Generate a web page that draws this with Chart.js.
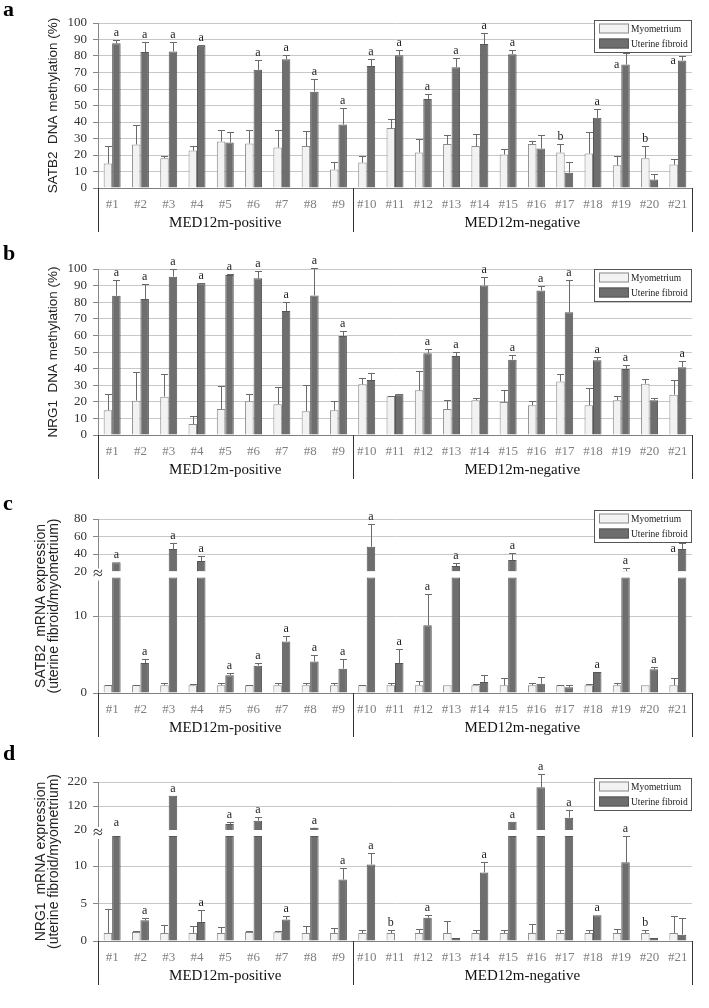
<!DOCTYPE html>
<html>
<head>
<meta charset="utf-8">
<script src="https://cdn.jsdelivr.net/npm/chart.js@4.4.1/dist/chart.umd.min.js"></script>
<style>
html, body { margin: 0; padding: 0; background: #fff; }
#wrap { position: relative; width: 709px; height: 1008px; }
.panel { position: absolute; left: 0; width: 709px; }
</style>
</head>
<body>
<div id="wrap">
  <div class="panel" style="top:0;height:243px"><canvas id="chartA"></canvas></div>
  <div class="panel" style="top:243px;height:252px"><canvas id="chartB"></canvas></div>
  <div class="panel" style="top:495px;height:248px"><canvas id="chartC"></canvas></div>
  <div class="panel" style="top:743px;height:265px"><canvas id="chartD"></canvas></div>
</div>
<script>
const cats = ['#1', '#2', '#3', '#4', '#5', '#6', '#7', '#8', '#9', '#10', '#11', '#12', '#13', '#14', '#15', '#16', '#17', '#18', '#19', '#20', '#21'];
const groupNames = ['MED12m-positive', 'MED12m-negative'];
const groupSizes = [9, 12];
const seriesNames = ['Myometrium', 'Uterine fibroid'];

// a - SATB2 DNA methylation (%)
const aMyo = [14.8, 26.4, 18.1, 22.7, 28.2, 27.0, 24.5, 25.4, 11.2, 15.4, 36.3, 21.5, 26.6, 25.4, 20.3, 26.6, 21.5, 20.9, 13.8, 18.1, 14.2];
const aMyoErr = [10.8, 11.7, 1.2, 2.9, 6.7, 7.9, 10.6, 9.3, 4.6, 4.1, 5.3, 7.9, 5.4, 7.1, 3.6, 1.8, 4.9, 12.8, 5.5, 7.3, 3.6];
const aFib = [87.8, 82.4, 82.8, 86.2, 27.6, 71.6, 78.1, 58.4, 38.5, 74.0, 80.5, 54.0, 73.2, 87.2, 81.1, 23.9, 9.3, 42.6, 74.8, 5.1, 77.3];
const aFibErr = [1.7, 5.9, 5.4, 0.6, 6.1, 5.9, 2.4, 7.5, 9.7, 4.1, 2.9, 2.8, 5.5, 6.7, 2.4, 8.1, 6.7, 5.1, 6.9, 3.2, 2.4];
const aSig = ['a', 'a', 'a', 'a', '', 'a', 'a', 'a', 'a', 'a', 'a', 'a', 'a', 'a', 'a', '', 'b', 'a', 'a', 'b', 'a'];

// b - NRG1 DNA methylation (%)
const bMyo = [14.9, 20.7, 23.1, 6.6, 15.7, 20.3, 18.5, 14.3, 14.9, 30.5, 23.3, 26.9, 15.7, 20.9, 19.9, 17.9, 32.3, 17.9, 20.9, 30.9, 24.3];
const bMyoErr = [10.0, 17.1, 13.9, 4.6, 13.9, 4.2, 10.2, 15.7, 5.4, 4.0, 0.2, 11.7, 5.4, 1.6, 7.2, 2.4, 4.2, 10.2, 2.6, 2.6, 8.8];
const bFib = [83.9, 81.9, 95.4, 91.4, 96.4, 94.4, 74.7, 84.1, 59.6, 33.1, 24.5, 49.2, 47.6, 90.0, 45.4, 87.1, 73.9, 45.0, 39.8, 20.9, 40.8];
const bFibErr = [9.4, 8.8, 4.4, 0.4, 0.4, 4.4, 5.6, 16.3, 3.2, 4.0, 0.2, 2.4, 2.6, 5.4, 2.6, 2.6, 19.5, 2.0, 2.2, 1.6, 3.8];
const bSig = ['a', 'a', 'a', 'a', 'a', 'a', 'a', 'a', 'a', '', '', 'a', 'a', 'a', 'a', 'a', 'a', 'a', 'a', '', 'a'];

// c - SATB2 mRNA expression (broken axis)
const cMyo = [1, 1, 1, 1, 1, 1, 1, 1, 1, 1, 1, 1, 1, 1, 1, 1, 1, 1, 1, 1, 1];
const cMyoErr = [0.05, 0.05, 0.3, 0.2, 0.3, 0.05, 0.3, 0.3, 0.3, 0.05, 0.3, 0.5, 0, 0.2, 1.0, 0.35, 0.1, 0.2, 0.25, 0, 1.0];
const cFib = [30.5, 3.9, 45.7, 32.0, 2.3, 3.55, 6.7, 4.1, 3.16, 48.3, 3.9, 8.8, 26.3, 1.43, 33.1, 1.2, 0.74, 2.73, 20.5, 3.07, 45.7];
const cFibErr = [0, 0.56, 6.5, 5.7, 0.35, 0.35, 0.65, 0.8, 1.3, 26.0, 1.86, 4.0, 3.8, 0.95, 7.7, 0.88, 0.26, 0, 3.1, 0.35, 6.5];
const cSig = ['a', 'a', 'a', 'a', 'a', 'a', 'a', 'a', 'a', 'a', 'a', 'a', 'a', '', 'a', '', '', 'a', 'a', 'a', 'a'];
const cLowTicks = [0, 10];
const cHighTicks = [20, 40, 60, 80];

// d - NRG1 mRNA expression (broken axis)
const dMyo = [1.07, 1.2, 1.07, 1.07, 1.07, 1.2, 1.16, 1.07, 1.07, 1.07, 1.07, 1.07, 1.07, 1.07, 1.07, 1.07, 1.07, 1.07, 1.07, 1.07, 1.07];
const dMyoErr = [3.26, 0.1, 1.1, 0.9, 0.8, 0.1, 0.15, 0.9, 0.67, 0.36, 0.36, 0.58, 1.6, 0.36, 0.36, 1.15, 0.36, 0.36, 0.58, 0.45, 2.2];
const dFib = [20, 2.77, 163, 2.54, 45, 58.9, 2.86, 29.7, 8.2, 10.2, 0, 3.1, 0.4, 9.15, 54.7, 197.8, 71.4, 3.44, 10.5, 0.4, 0.85];
const dFibErr = [0, 0.31, 0, 1.65, 9.7, 16.7, 0.5, 0.5, 1.5, 1.5, 0, 0.4, 0, 1.45, 0, 54, 31.9, 0, 3.5, 0, 2.2];
const dSig = ['a', 'a', 'a', 'a', 'a', 'a', 'a', 'a', 'a', 'a', 'b', 'a', '', 'a', 'a', 'a', 'a', 'a', 'a', 'b', ''];
const dLowTicks = [0, 5, 10];
const dHighTicks = [20, 120, 220];

const SERIF = '"Liberation Serif", "Times New Roman", serif';
const SANS = '"Liberation Sans", Arial, sans-serif';
const myoStyle = { backgroundColor: '#f2f2f2', borderColor: '#8a8a8a', borderWidth: 1 };
const fibStyle = { backgroundColor: '#6e6e6e', borderColor: '#575757', borderWidth: 1 };

Chart.defaults.font.family = SERIF;

// error bars, a/b letters, legend box, group labels, axis titles
const figurePlugin = {
    id: 'figure',
    afterDatasetsDraw(chart, args, o) {
        const ctx = chart.ctx;
        const myoMeta = chart.getDatasetMeta(0);
        const fibMeta = chart.getDatasetMeta(1);
        const yFor = (v) => o.broken ? (v >= o.brk ? chart.scales.yHigh : chart.scales.yLow) : chart.scales.y;
        ctx.save();
        ctx.strokeStyle = '#6a6a6a';
        ctx.lineWidth = 1;
        const drawErr = (x, v, e) => {
            if (!e) return;
            const sc = yFor(v);
            const y0 = sc.getPixelForValue(v);
            const y1 = Math.round(sc.getPixelForValue(v + e)) + 0.5;
            const xx = Math.round(x) + 0.5;
            ctx.beginPath();
            ctx.moveTo(xx, y0);
            ctx.lineTo(xx, y1);
            ctx.moveTo(xx - 3.5, y1);
            ctx.lineTo(xx + 3.5, y1);
            ctx.stroke();
        };
        o.myo.forEach((v, i) => drawErr(myoMeta.data[i].x, v, o.myoErr[i]));
        o.fib.forEach((v, i) => drawErr(fibMeta.data[i].x, v, o.fibErr[i]));

        ctx.fillStyle = '#222';
        ctx.font = '12px ' + SERIF;
        o.sig.forEach((s, i) => {
            if (!s) return;
            const onMyo = s === 'b';
            const v = onMyo ? o.myo[i] : o.fib[i];
            const e = onMyo ? o.myoErr[i] : o.fibErr[i];
            const el = (onMyo ? myoMeta : fibMeta).data[i];
            if (o.side.includes(i)) {
                ctx.textAlign = 'right';
                ctx.textBaseline = 'middle';
                ctx.fillText(s, el.x - el.width / 2 - 2, yFor(v).getPixelForValue(v));
            } else {
                ctx.textAlign = 'center';
                ctx.textBaseline = 'alphabetic';
                ctx.fillText(s, el.x, yFor(v).getPixelForValue(v + e) - 4);
            }
        });
        ctx.restore();
    },
    afterDraw(chart, args, o) {
        const ctx = chart.ctx;
        const area = chart.chartArea;
        const xs = chart.scales.x;
        ctx.save();

        // panel letter
        ctx.fillStyle = '#000';
        ctx.font = 'bold 22px ' + SERIF;
        ctx.textAlign = 'left';
        ctx.textBaseline = 'alphabetic';
        ctx.fillText(o.letter, 3, o.letterY);

        // y axis title
        ctx.font = o.titleSize + 'px ' + SANS;
        ctx.fillStyle = '#222';
        ctx.textAlign = 'center';
        ctx.textBaseline = 'middle';
        const cy = (area.top + area.bottom) / 2;
        o.title.forEach((t, k) => {
            ctx.save();
            ctx.translate(o.titleX[k], cy);
            ctx.rotate(-Math.PI / 2);
            ctx.fillText(t, 0, 0);
            ctx.restore();
        });

        // axis break mark
        if (o.broken) {
            const by = chart.scales.yHigh.bottom + 3;
            ctx.fillStyle = '#fff';
            ctx.fillRect(xs.left - 5, by - 6, 10, 12);
            ctx.fillStyle = '#333';
            ctx.font = '18px ' + SERIF;
            ctx.fillText('\u2248', xs.left, by);
        }

        // group separators and labels
        const bounds = [xs.left];
        let n = 0;
        groupSizes.forEach(s => {
            n += s;
            bounds.push(n < cats.length ? (xs.getPixelForValue(n - 1) + xs.getPixelForValue(n)) / 2 : xs.right);
        });
        ctx.strokeStyle = '#333';
        ctx.lineWidth = 1;
        bounds.forEach(b => {
            const bx = Math.round(b) + 0.5;
            ctx.beginPath();
            ctx.moveTo(bx, area.bottom);
            ctx.lineTo(bx, area.bottom + 44);
            ctx.stroke();
        });
        ctx.fillStyle = '#111';
        ctx.font = '15px ' + SERIF;
        groupNames.forEach((g, k) => {
            ctx.fillText(g, (bounds[k] + bounds[k + 1]) / 2, area.bottom + 35);
        });

        // legend
        const L = o.legend;
        ctx.fillStyle = '#fff';
        ctx.fillRect(L.x, L.y, L.w, L.h);
        ctx.strokeStyle = '#555';
        ctx.strokeRect(L.x + 0.5, L.y + 0.5, L.w, L.h);
        ctx.font = '9.5px ' + SERIF;
        ctx.textAlign = 'left';
        chart.data.datasets.slice(0, 2).forEach((ds, k) => {
            const sy = L.y + 3.5 + k * 15;
            ctx.fillStyle = ds.backgroundColor;
            ctx.fillRect(L.x + 5, sy, 30, 10);
            ctx.strokeStyle = ds.borderColor;
            ctx.strokeRect(L.x + 5.5, sy + 0.5, 29, 9);
            ctx.fillStyle = '#222';
            ctx.fillText(ds.label, L.x + 37, sy + 5.5);
        });
        ctx.restore();
    }
};

function yScale(extra) {
    return Object.assign({
        type: 'linear',
        position: 'left',
        stacked: false,
        afterFit: (s) => { s.width = 98; },
        grid: { color: '#c8c8c8', tickColor: '#888', tickLength: 5 },
        border: { display: true, color: '#888' },
        ticks: { color: '#333', padding: 6, autoSkip: false, stepSize: 10, font: { size: 13, family: SERIF } }
    }, extra);
}

function barChart(id, p) {
    let datasets, scales;
    const xScale = {
        type: 'category',
        grid: { display: false, drawTicks: false },
        border: { display: true, color: '#808080' },
        ticks: { color: '#7f7f7f', padding: 9, maxRotation: 0, autoSkip: false, font: { size: 13, family: SERIF } },
        afterFit: (s) => { s.height = 50; }
    };
    if (!p.broken) {
        datasets = [
            Object.assign({ label: seriesNames[0], data: p.myo, yAxisID: 'y', stack: 'm' }, myoStyle),
            Object.assign({ label: seriesNames[1], data: p.fib, yAxisID: 'y', stack: 'f' }, fibStyle)
        ];
        scales = { x: xScale, y: yScale({ min: 0, max: 100 }) };
    } else {
        const hide = (c) => (c.tick && c.tick.value === p.brk ? 'rgba(0,0,0,0)' : null);
        datasets = [
            Object.assign({ label: seriesNames[0], data: p.myo, yAxisID: 'yLow', stack: 'm' }, myoStyle),
            Object.assign({ label: seriesNames[1], data: p.fib.map(v => Math.min(v, p.clamp)), yAxisID: 'yLow', stack: 'f' }, fibStyle),
            Object.assign({ label: seriesNames[1], data: p.fib.map(v => (v > p.brk ? [p.brk, v] : null)), yAxisID: 'yHigh', stack: 'f' }, fibStyle)
        ];
        scales = {
            x: xScale,
            yLow: yScale({
                min: 0, max: p.lowMax, stack: 'v', stackWeight: p.lowWeight, weight: 0,
                afterBuildTicks: (s) => { s.ticks = p.lowTicks.map(v => ({ value: v })); }
            }),
            yHigh: yScale({
                min: p.brk, max: p.highMax, stack: 'v', stackWeight: p.highWeight, weight: 1,
                afterBuildTicks: (s) => { s.ticks = p.highTicks.map(v => ({ value: v })); },
                grid: {
                    color: (c) => hide(c) || '#c8c8c8',
                    tickColor: (c) => hide(c) || '#888',
                    tickLength: 5
                }
            })
        };
    }
    return new Chart(document.getElementById(id), {
        type: 'bar',
        data: { labels: cats, datasets: datasets },
        options: {
            responsive: true,
            maintainAspectRatio: false,
            animation: false,
            events: [],
            categoryPercentage: 0.6,
            barPercentage: 1.0,
            layout: { padding: { left: 0, right: 17, top: p.padTop, bottom: p.padBottom } },
            scales: scales,
            plugins: {
                legend: { display: false },
                tooltip: { enabled: false },
                figure: p
            }
        },
        plugins: [figurePlugin]
    });
}

const chartA = barChart('chartA', {
    letter: 'a', letterY: 16, title: ['SATB2  DNA methylation (%)'], titleX: [53], titleSize: 13.5,
    myo: aMyo, myoErr: aMyoErr, fib: aFib, fibErr: aFibErr, sig: aSig, side: [18, 20],
    legend: { x: 594, y: 20, w: 97, h: 32 }, padTop: 23, padBottom: 5, broken: false
});

const chartB = barChart('chartB', {
    letter: 'b', letterY: 17, title: ['NRG1  DNA methylation (%)'], titleX: [53], titleSize: 13.5,
    myo: bMyo, myoErr: bMyoErr, fib: bFib, fibErr: bFibErr, sig: bSig, side: [],
    legend: { x: 594, y: 26, w: 97, h: 32 }, padTop: 26, padBottom: 10, broken: false
});

const chartC = barChart('chartC', {
    letter: 'c', letterY: 15, title: ['SATB2  mRNA expression', '(uterine fibroid/myometrium)'], titleX: [41, 54], titleSize: 14,
    myo: cMyo, myoErr: cMyoErr, fib: cFib, fibErr: cFibErr, sig: cSig, side: [20],
    legend: { x: 594, y: 15, w: 97, h: 32 }, padTop: 24, padBottom: 0, broken: true,
    brk: 20, clamp: 15, lowMax: 15.78, highMax: 80, lowTicks: cLowTicks, highTicks: cHighTicks,
    lowWeight: 121.5, highWeight: 52.5
});

const chartD = barChart('chartD', {
    letter: 'd', letterY: 17, title: ['NRG1  mRNA expression', '(uterine fibroid/myometrium)'], titleX: [41, 54], titleSize: 14,
    myo: dMyo, myoErr: dMyoErr, fib: dFib, fibErr: dFibErr, sig: dSig, side: [],
    legend: { x: 594, y: 35, w: 97, h: 32 }, padTop: 39, padBottom: 17, broken: true,
    brk: 20, clamp: 14, lowMax: 14.8, highMax: 220, lowTicks: dLowTicks, highTicks: dHighTicks,
    lowWeight: 111, highWeight: 48
});
</script>
</body>
</html>
